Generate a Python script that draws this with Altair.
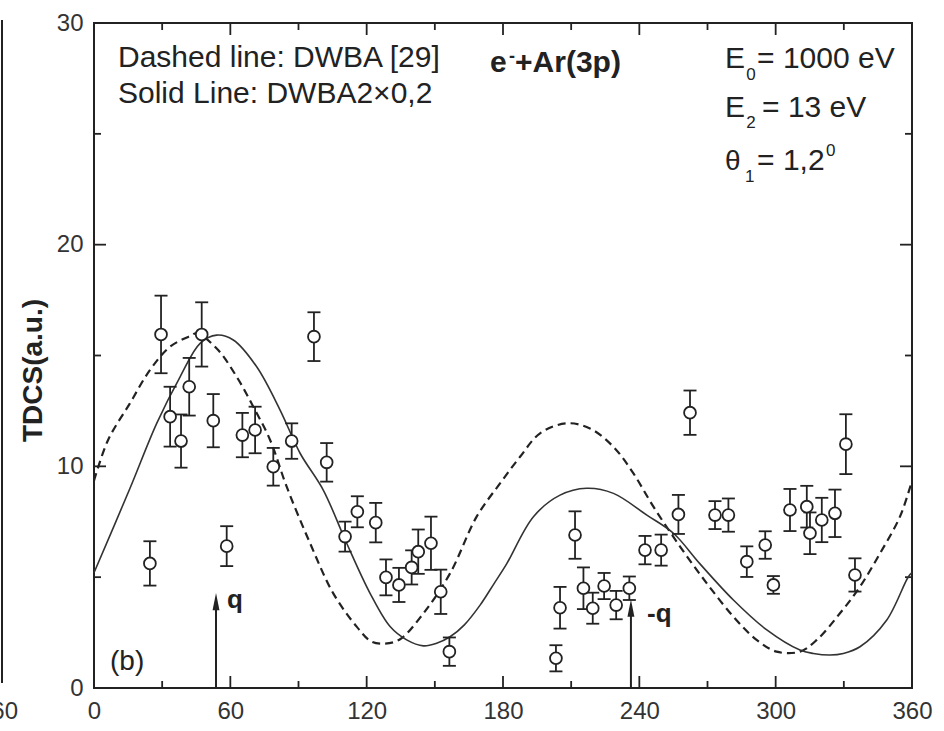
import altair as alt
import pandas as pd

angle = [24.6, 29.5, 33.5, 38.3, 41.9, 47.4, 52.5, 58.4, 65.3, 70.9, 78.9, 87.0,
         96.8, 102.4, 110.5, 115.9, 124.0, 128.5, 134.2, 139.8, 142.7, 148.3, 152.6, 156.4,
         203.3, 205.1, 211.7, 215.4, 219.5, 224.5, 229.8, 235.6, 242.5, 249.6, 257.2, 262.3,
         273.3, 279.2, 287.3, 295.4, 299.0, 306.3, 313.7, 315.1, 320.3, 326.1, 330.9, 334.9]
tdcs = [5.62, 15.95, 12.24, 11.14, 13.59, 15.95, 12.06, 6.4, 11.41, 11.64, 9.98, 11.14,
        15.85, 10.18, 6.83, 7.95, 7.46, 4.99, 4.65, 5.44, 6.15, 6.53, 4.34, 1.64,
        1.34, 3.62, 6.9, 4.5, 3.6, 4.6, 3.74, 4.5, 6.22, 6.22, 7.83, 12.42,
        7.8, 7.8, 5.7, 6.45, 4.65, 8.03, 8.18, 6.98, 7.58, 7.88, 11.0, 5.1]
err = [1.0, 1.75, 1.35, 1.2, 1.3, 1.45, 1.2, 0.9, 1.0, 1.05, 0.85, 0.8,
       1.1, 0.87, 0.68, 0.7, 0.89, 0.81, 0.77, 0.77, 1.0, 1.2, 1.0, 0.64,
       0.59, 0.94, 1.07, 0.94, 0.7, 0.59, 0.64, 0.53, 0.64, 0.7, 0.88, 1.0,
       0.63, 0.75, 0.69, 0.62, 0.4, 0.95, 0.94, 0.94, 1.0, 1.07, 1.35, 0.75]

# solid line: DWBA2 x 0.2
solid_x = [0, 15.8, 27.6, 37.9, 46.7, 54, 61.3, 71.6, 81.9, 90.7, 100.9, 111.2, 121.5,
           130.3, 137.6, 145, 150.8, 156.7, 163, 170, 176, 181.6, 193.4, 205.1, 216.8, 228.6,
           243.3, 255, 266.7, 281.4, 296.1, 310.7, 316.6, 323.9, 329.8, 337.1, 348.9, 358.4, 360]
solid_y = [5.2, 9.0, 11.94, 14.04, 15.55, 15.92, 15.7, 14.49, 12.54, 10.59, 8.93, 6.53, 4.27,
           2.77, 2.17, 1.9, 2.02, 2.31, 2.85, 3.75, 4.7, 5.6, 7.73, 8.7, 9.01, 8.78,
           7.8, 6.98, 5.6, 3.97, 2.62, 1.71, 1.56, 1.49, 1.56, 1.86, 3.07, 5.02, 5.2]

# dashed line: DWBA [29]
dashed_x = [0, 6.2, 15.8, 24.6, 33.5, 42.3, 45.2, 54, 62.8, 70.1, 77.5, 84.8, 95.1, 105.3,
            115.6, 122, 128, 134.7, 145, 156.7, 168.4, 178.7, 187.5, 196.3, 208, 218.3,
            228.6, 237.4, 246.2, 258, 269.7, 281.4, 291.6, 300.4, 310.7, 318.1, 328.3,
            337.1, 345.9, 354.7, 360]
dashed_y = [9.35, 11.19, 12.84, 14.34, 15.4, 15.88, 16.0, 15.32, 14.04, 12.69, 11.19, 9.08, 6.53, 4.27,
            2.77, 2.1, 2.0, 2.2, 3.37, 5.17, 7.73, 9.23, 10.43, 11.49, 11.94, 11.71,
            10.88, 9.68, 8.18, 6.37, 4.72, 3.22, 2.17, 1.64, 1.64, 2.17, 3.37,
            4.57, 6.07, 7.73, 9.35]

x_major = [0, 60, 120, 180, 240, 300, 360]
x_minor = [30, 90, 150, 210, 270, 330]
y_major = [0, 10, 20, 30]
y_minor = [5, 15, 25]

arrow_x = [53.7, 236.3]
arrow_top = [3.9, 3.6]

W, H = 818, 665
INK = "#222222"
FONT = "Liberation Sans"

pts = pd.DataFrame({"angle": angle, "tdcs": tdcs, "err": err})
pts["lo"] = pts["tdcs"] - pts["err"]
pts["hi"] = pts["tdcs"] + pts["err"]

xs = alt.Scale(domain=[0, 360], nice=False, zero=False)
ys = alt.Scale(domain=[0, 30], nice=False, zero=False)

X = alt.X("angle:Q", scale=xs,
          axis=alt.Axis(values=x_major, title=None, labelPadding=11, labelFlush=False,
                        labelOverlap=False, grid=False, domain=False, ticks=False,
                        labelFontSize=24, labelFont=FONT, labelColor="#333333"))
Y = alt.Y("tdcs:Q", scale=ys,
          axis=alt.Axis(values=y_major, title="TDCS(a.u.)", labelPadding=11,
                        grid=False, domain=False, ticks=False,
                        labelFontSize=24, labelFont=FONT, labelColor="#333333",
                        titleFontWeight="bold", titleFontSize=28, titleX=-47, titleY=347,
                        titleFont=FONT, titleColor=INK))

base = alt.Chart(pts)

rules = base.mark_rule(color=INK, strokeWidth=1.8).encode(
    x=alt.X("angle:Q", scale=xs), y=alt.Y("lo:Q", scale=ys), y2="hi:Q")
cap_lo = base.mark_tick(orient="horizontal", size=13, thickness=1.8, color=INK, opacity=1).encode(
    x=alt.X("angle:Q", scale=xs), y=alt.Y("lo:Q", scale=ys))
cap_hi = base.mark_tick(orient="horizontal", size=13, thickness=1.8, color=INK, opacity=1).encode(
    x=alt.X("angle:Q", scale=xs), y=alt.Y("hi:Q", scale=ys))
circles = base.mark_point(shape="circle", filled=True, fill="white", stroke=INK,
                          strokeWidth=1.8, size=140, opacity=1).encode(x=X, y=Y)

solid = alt.Chart(pd.DataFrame({"angle": solid_x, "v": solid_y})).mark_line(
    color="#333333", strokeWidth=1.6, interpolate="catmull-rom").encode(
    x=alt.X("angle:Q", scale=xs), y=alt.Y("v:Q", scale=ys))
dashed = alt.Chart(pd.DataFrame({"angle": dashed_x, "v": dashed_y})).mark_line(
    color=INK, strokeWidth=2.2, strokeDash=[8, 5], interpolate="catmull-rom").encode(
    x=alt.X("angle:Q", scale=xs), y=alt.Y("v:Q", scale=ys))

# inward ticks (frame ticks on all four sides)
def xticks(vals, length):
    d = alt.Chart(pd.DataFrame({"t": vals}))
    b = d.mark_rule(color=INK, strokeWidth=1.8).encode(
        x=alt.X("t:Q", scale=xs), y=alt.value(H), y2=alt.value(H - length))
    t = d.mark_rule(color=INK, strokeWidth=1.8).encode(
        x=alt.X("t:Q", scale=xs), y=alt.value(0), y2=alt.value(length))
    return b + t

def yticks(vals, length):
    d = alt.Chart(pd.DataFrame({"t": vals}))
    l = d.mark_rule(color=INK, strokeWidth=1.8).encode(
        y=alt.Y("t:Q", scale=ys), x=alt.value(0), x2=alt.value(length))
    r = d.mark_rule(color=INK, strokeWidth=1.8).encode(
        y=alt.Y("t:Q", scale=ys), x=alt.value(W), x2=alt.value(W - length))
    return l + r

ticks = xticks(x_major, 12) + xticks(x_minor, 7) + yticks(y_major, 12) + yticks(y_minor, 7)

# arrows q and -q
arr = pd.DataFrame({"angle": arrow_x, "top": arrow_top, "base": [0, 0]})
arrow_shafts = alt.Chart(arr).mark_rule(color=INK, strokeWidth=2).encode(
    x=alt.X("angle:Q", scale=xs), y=alt.Y("base:Q", scale=ys), y2="top:Q")
arrow_heads = alt.Chart(arr).mark_point(shape="M0,-1L0.4,1L-0.4,1Z", filled=True,
                                        color=INK, size=300, opacity=1).encode(
    x=alt.X("angle:Q", scale=xs), y=alt.Y("top:Q", scale=ys))

# annotations
ann_text = ["Dashed line: DWBA [29]", "Solid Line: DWBA2×0,2",
            "e", "-", "+Ar(3p)",
            "E", "0", "= 1000 eV",
            "E", "2", "= 13 eV",
            "θ", "1", "= 1,2", "0",
            "(b)", "q", "-q"]
ann_x = [10.56, 10.56, 174.3, 182.6, 185.3,
         277.7, 287.0, 291.8,
         277.7, 287.0, 294.0,
         277.7, 286.5, 291.8, 322.2,
         7.04, 58.5, 243.4]
ann_y = [28.01, 26.39, 27.79, 28.24, 27.79,
         27.97, 27.43, 27.97,
         25.76, 25.26, 25.76,
         23.37, 22.83, 23.37, 24.0,
         0.81, 3.61, 2.98]
ann_size = [30, 30, 30, 18, 30, 30, 17, 30, 30, 17, 30, 28, 17, 30, 17, 28, 26, 26]
ann_weight = ["normal", "normal", "bold", "bold", "bold", "normal", "normal", "normal",
              "normal", "normal", "normal", "normal", "normal", "normal", "normal",
              "normal", "bold", "bold"]
ann = pd.DataFrame({"angle": ann_x, "v": ann_y, "txt": ann_text, "fs": ann_size, "fw": ann_weight})

texts = []
for w in ["normal", "bold"]:
    for s in sorted(set(ann_size)):
        sub = ann[(ann.fs == s) & (ann.fw == w)]
        if len(sub) == 0:
            continue
        texts.append(alt.Chart(sub).mark_text(
            align="left", baseline="alphabetic", font=FONT, fontSize=s, fontWeight=w,
            color=INK).encode(x=alt.X("angle:Q", scale=xs), y=alt.Y("v:Q", scale=ys),
                              text="txt:N"))

# remnant of the neighbouring panel at the left edge
rem = alt.Chart(pd.DataFrame({"k": [0]}))
rem_line = rem.mark_rule(color=INK, strokeWidth=2).encode(
    x=alt.value(-92), y=alt.value(-3), y2=alt.value(660))
rem_text = rem.mark_text(text="60", align="right", baseline="middle", font=FONT,
                         fontSize=24, color="#333333").encode(x=alt.value(-76), y=alt.value(689))

chart = alt.layer(
    ticks, dashed, solid, arrow_shafts, arrow_heads, rules, cap_lo, cap_hi, circles,
    *texts, rem_line, rem_text
).properties(
    width=W, height=H,
    padding={"left": 94, "top": 23, "right": 32, "bottom": 43},
    autosize=alt.AutoSizeParams(type="none"),
    background="white",
).configure_view(
    stroke=INK, strokeWidth=2
).configure_axis(
    domain=False, ticks=False, tickSize=0, grid=False,
    labelFont=FONT, labelFontSize=24, labelColor="#333333",
)

chart.save("out.html", embed_options={"renderer": "svg", "actions": False})
